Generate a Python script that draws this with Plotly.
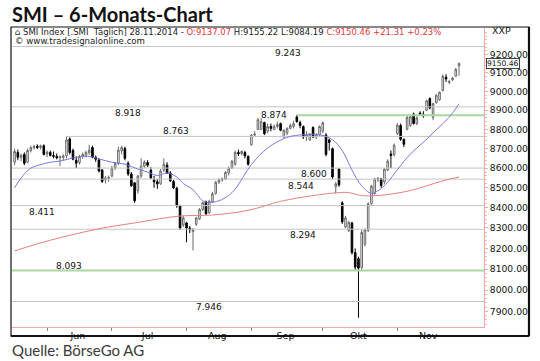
import math
import pandas as pd
import plotly.graph_objects as go

# ---------------- data ----------------
HOLIDAYS = ["2014-05-29", "2014-06-09", "2014-08-01"]
DATES = pd.bdate_range("2014-05-16", "2014-11-28", freq="C", holidays=HOLIDAYS)

OPEN = [8630, 8680, 8655, 8670, 8630, 8690, 8705, 8712, 8706, 8715,
        8672, 8680, 8665, 8660, 8652, 8655, 8662, 8750, 8690, 8640,
        8628, 8660, 8666, 8678, 8705, 8655, 8642, 8590, 8540, 8548,
        8560, 8600, 8625, 8688, 8700, 8625, 8570, 8525, 8485, 8560,
        8610, 8628, 8590, 8540, 8530, 8520, 8590, 8615, 8575, 8532,
        8498, 8410, 8315, 8325, 8300, 8282, 8318, 8345, 8392, 8430,
        8375, 8430, 8472, 8528, 8540, 8545, 8575, 8600, 8620, 8680,
        8674, 8680, 8660, 8720, 8770, 8800, 8800, 8835, 8790, 8815,
        8800, 8815, 8830, 8760, 8780, 8805, 8815, 8865, 8835, 8815,
        8765, 8745, 8810, 8760, 8770, 8790, 8770, 8745, 8700, 8505,
        8595, 8425, 8305, 8287, 8325, 8180, 8150, 8108, 8220, 8287,
        8422, 8472, 8540, 8545, 8530, 8590, 8672, 8668, 8778, 8820,
        8748, 8800, 8820, 8880, 8830, 8885, 8878, 8900, 8962, 8862,
        8940, 8955, 9005, 9076, 9048, 9062, 9082, 9137.07]
HIGH = [8700, 8695, 8675, 8680, 8700, 8715, 8720, 8722, 8720, 8722,
        8690, 8690, 8685, 8675, 8665, 8670, 8763, 8758, 8700, 8660,
        8668, 8680, 8690, 8720, 8715, 8665, 8650, 8595, 8560, 8562,
        8612, 8632, 8710, 8715, 8710, 8635, 8580, 8530, 8565, 8650,
        8640, 8640, 8605, 8560, 8545, 8595, 8650, 8630, 8585, 8540,
        8505, 8415, 8360, 8330, 8310, 8300, 8355, 8398, 8430, 8436,
        8440, 8480, 8535, 8548, 8552, 8585, 8608, 8642, 8690, 8695,
        8690, 8688, 8665, 8775, 8790, 8860, 8860, 8840, 8830, 8830,
        8825, 8840, 8835, 8800, 8810, 8830, 8845, 8874, 8845, 8820,
        8790, 8780, 8815, 8780, 8820, 8840, 8780, 8752, 8705, 8530,
        8600, 8432, 8360, 8335, 8330, 8200, 8160, 8290, 8298, 8428,
        8515, 8550, 8555, 8550, 8600, 8645, 8690, 8726, 8832, 8830,
        8752, 8870, 8872, 8888, 8868, 8895, 8895, 8956, 8968, 8940,
        8985, 9000, 9090, 9092, 9062, 9078, 9125, 9155.22]
LOW = [8615, 8640, 8635, 8615, 8625, 8680, 8695, 8698, 8696, 8665,
       8655, 8660, 8650, 8645, 8610, 8640, 8650, 8670, 8640, 8600,
       8618, 8648, 8655, 8668, 8650, 8632, 8578, 8525, 8522, 8530,
       8552, 8590, 8615, 8670, 8640, 8560, 8505, 8425, 8470, 8550,
       8600, 8605, 8545, 8500, 8495, 8515, 8580, 8570, 8530, 8495,
       8400, 8290, 8305, 8230, 8275, 8190, 8310, 8340, 8385, 8365,
       8370, 8425, 8465, 8520, 8530, 8540, 8562, 8595, 8612, 8662,
       8665, 8650, 8612, 8715, 8760, 8795, 8795, 8770, 8780, 8790,
       8795, 8805, 8790, 8755, 8770, 8800, 8805, 8835, 8805, 8750,
       8740, 8740, 8755, 8750, 8765, 8780, 8660, 8690, 8545, 8470,
       8505, 8320, 8298, 8280, 8170, 8095, 7870, 8095, 8210, 8280,
       8415, 8465, 8530, 8500, 8520, 8585, 8600, 8660, 8770, 8740,
       8708, 8795, 8812, 8825, 8822, 8875, 8860, 8895, 8905, 8848,
       8935, 8950, 9000, 9050, 9038, 9055, 9078, 9084.19]
CLOSE = [8685, 8655, 8665, 8625, 8690, 8705, 8710, 8706, 8714, 8670,
         8682, 8665, 8660, 8652, 8658, 8662, 8745, 8680, 8645, 8625,
         8660, 8670, 8680, 8692, 8655, 8645, 8585, 8532, 8550, 8552,
         8600, 8625, 8692, 8705, 8650, 8570, 8510, 8435, 8560, 8610,
         8630, 8615, 8550, 8530, 8520, 8585, 8620, 8575, 8535, 8500,
         8410, 8300, 8350, 8300, 8292, 8292, 8349, 8392, 8426, 8370,
         8432, 8470, 8528, 8540, 8545, 8578, 8600, 8635, 8680, 8674,
         8686, 8662, 8620, 8770, 8775, 8850, 8840, 8778, 8815, 8805,
         8815, 8825, 8795, 8795, 8805, 8820, 8830, 8840, 8820, 8760,
         8770, 8775, 8760, 8770, 8815, 8835, 8670, 8732, 8555, 8520,
         8515, 8330, 8350, 8328, 8180, 8110, 8105, 8278, 8290, 8420,
         8508, 8545, 8546, 8512, 8595, 8636, 8664, 8718, 8822, 8748,
         8722, 8862, 8866, 8830, 8860, 8880, 8872, 8950, 8912, 8935,
         8980, 8995, 9082, 9066, 9052, 9072, 9119, 9150.46]

# moving averages (day index, value)
MA20_IDX = [0, 2, 5, 9, 11, 14, 19, 23, 26, 30, 34, 38, 41, 44, 47, 50, 52, 55, 58, 60,
            63, 66, 68, 73, 78, 84, 89, 94, 98, 101, 104, 107, 110, 112, 115, 118, 122,
            126, 130, 134, 137]
MA20_VAL = [8500, 8550, 8600, 8622, 8630, 8636, 8655, 8660, 8647, 8630, 8620, 8595, 8580,
            8562, 8575, 8555, 8522, 8490, 8435, 8427, 8435, 8462, 8494, 8618, 8703, 8758,
            8772, 8772, 8746, 8690, 8590, 8510, 8472, 8485, 8528, 8592, 8672, 8732, 8798,
            8864, 8934]
MA200_IDX = [0, 11, 26, 37, 51, 61, 72, 82, 92, 100, 103, 107, 112, 117, 122, 127, 132, 137]
MA200_VAL = [8188, 8240, 8296, 8325, 8359, 8364, 8387, 8432, 8461, 8476, 8476, 8461, 8461,
             8471, 8486, 8510, 8535, 8555]

# support / resistance levels
LEVELS = [9243, 8918, 8874, 8763, 8600, 8544, 8411, 8294, 8093, 7946]
LEVEL_TEXT = ["9.243", "8.918", "8.874", "8.763", "8.600", "8.544", "8.411", "8.294", "8.093", "7.946"]
LEVEL_START = [None, None, 87, 16, None, None, None, None, None, None]
LEVEL_GREEN = [False, False, True, False, False, False, False, False, True, False]

MONTHS_DE = {6: "Jun", 7: "Jul", 8: "Aug", 9: "Sep", 10: "Okt", 11: "Nov"}
Y_TICKS = [7900, 8000, 8100, 8200, 8300, 8400, 8500, 8600, 8700, 8800, 8900, 9000, 9100, 9200]

# ---------------- layout constants ----------------
XRANGE = [-0.8, 144.7]
YRANGE = [math.log10(7826.8), math.log10(9344.7)]
# label placement (x in day index, vertical offset in px)
LABEL_X = [84.2, 35, 80, 49.6, 92.2, 88.2, 8.5, 88.8, 16.8, 59.8]
LABEL_DY = [-7, -6, 0, 5, -6, -7, -6, -6, 5, -5]

FONT = "DejaVu Sans, Verdana, sans-serif"
N = len(CLOSE)
idx = list(range(N))
months = [d.month for d in DATES]

month_start, month_mid, month_name = [], [], []
for m in MONTHS_DE:
    ii = [i for i in idx if months[i] == m]
    month_start.append(ii[0])
    month_mid.append(sum(ii) / len(ii))
    month_name.append(MONTHS_DE[m])

fig = go.Figure()

for lvl, start, green in zip(LEVELS, LEVEL_START, LEVEL_GREEN):
    x0 = XRANGE[0] if start is None else start
    fig.add_trace(go.Scatter(
        x=[x0, XRANGE[1]], y=[lvl, lvl], mode="lines",
        line=dict(color="#a9d7a0" if green else "#c4c4c4", width=2 if green else 1),
        hoverinfo="skip", showlegend=False))

fig.add_trace(go.Scatter(x=MA200_IDX, y=MA200_VAL, mode="lines",
                         line=dict(color="#e58080", width=1, shape="spline"),
                         hoverinfo="skip", showlegend=False))
fig.add_trace(go.Scatter(x=MA20_IDX, y=MA20_VAL, mode="lines",
                         line=dict(color="#7b78e0", width=1, shape="spline"),
                         hoverinfo="skip", showlegend=False))

fig.add_trace(go.Candlestick(
    x=idx, open=OPEN, high=HIGH, low=LOW, close=CLOSE,
    increasing=dict(line=dict(color="#6a6a6a", width=1), fillcolor="#ffffff"),
    decreasing=dict(line=dict(color="#000000", width=1), fillcolor="#000000"),
    whiskerwidth=0, showlegend=False, hoverinfo="skip"))

annotations = []
for lvl, txt, lx, dy in zip(LEVELS, LEVEL_TEXT, LABEL_X, LABEL_DY):
    annotations.append(dict(x=lx, y=math.log10(lvl), xref="x", yref="y", text=txt,
                            showarrow=False, yshift=dy, xanchor="center",
                            font=dict(family=FONT, size=9, color="#111")))

# header texts
red = "#e23a3a"
annotations.append(dict(
    x=0.002, y=0.987, xref="paper", yref="paper", xanchor="left", yanchor="middle",
    showarrow=False, font=dict(family=FONT, size=8.5, color="#222"),
    text=("\u2302 SMI Index [.SMI  T\u00e4glich] 28.11.2014 - "
          f"<span style='color:{red}'>O:{OPEN[-1]:.2f}</span> H:{HIGH[-1]:.2f} L:{LOW[-1]:.2f} "
          f"<span style='color:{red}'>C:{CLOSE[-1]:.2f} +21.31 +0.23%</span>")))
annotations.append(dict(
    x=0.002, y=0.957, xref="paper", yref="paper", xanchor="left", yanchor="middle",
    showarrow=False, font=dict(family=FONT, size=8.6, color="#222"),
    text="\u00a9 www.tradesignalonline.com"))
annotations.append(dict(
    x=1.012, y=0.99, xref="paper", yref="paper", xanchor="left", yanchor="middle",
    showarrow=False, font=dict(family=FONT, size=9.5, color="#222"), text="XXP"))
annotations.append(dict(
    x=1.004, y=math.log10(CLOSE[-1]), xref="paper", yref="y", xanchor="left",
    yanchor="middle", yshift=-0.5, showarrow=False, bgcolor="#ffffff", bordercolor="#444",
    borderwidth=1, borderpad=0, font=dict(family=FONT, size=7.6, color="#111"),
    text=f"{CLOSE[-1]:.2f}"))
annotations.append(dict(
    x=-0.0045, y=1.047, xref="paper", yref="paper", xanchor="left", yanchor="middle",
    showarrow=False, font=dict(family="Lato, Open Sans, sans-serif", size=20, color="#111"),
    text="<b>SMI \u2013 6-Monats-Chart</b>"))
annotations.append(dict(
    x=-0.0045, y=-0.077, xref="paper", yref="paper", xanchor="left", yanchor="middle",
    showarrow=False, font=dict(family="Lato, Open Sans, sans-serif", size=15, color="#3a3a3a"),
    text="Quelle: B\u00f6rseGo AG"))

shapes = [
    dict(type="rect", xref="paper", yref="paper", x0=-0.0021, x1=1.0953, y0=-0.0301, y1=1.0033,
         line=dict(color="#111", width=1.2), layer="above"),
    dict(type="line", xref="paper", yref="paper", x0=1.0953, x1=1.0953, y0=-0.0301, y1=1.0033,
         line=dict(color="#111", width=2.2), layer="above"),
    dict(type="line", xref="paper", yref="paper", x0=-0.0021, x1=1.0953, y0=-0.0301, y1=-0.0301,
         line=dict(color="#111", width=2.2), layer="above"),
]

fig.update_layout(
    width=540, height=361,
    margin=dict(l=12, r=56, t=28, b=34),
    paper_bgcolor="#ffffff", plot_bgcolor="#ffffff",
    showlegend=False,
    annotations=annotations,
    shapes=shapes,
    xaxis=dict(range=XRANGE, rangeslider=dict(visible=False), showgrid=False, zeroline=False,
               tickmode="array", tickvals=month_mid, ticktext=month_name, ticks="",
               tickfont=dict(family=FONT, size=9.5, color="#111"),
               showline=True, linecolor="#f0a8a8", linewidth=1,
               minor=dict(tickmode="array", tickvals=month_start, ticks="outside",
                          ticklen=3, tickcolor="#888", tickwidth=1)),
    yaxis=dict(type="log", range=YRANGE, side="right", showgrid=False, zeroline=False,
               tickmode="array", tickvals=Y_TICKS, ticktext=[f"{v:.2f}" for v in Y_TICKS],
               ticks="outside", ticklen=3, tickcolor="#f0a8a8",
               tickfont=dict(family=FONT, size=9.2, color="#111"),
               showline=True, linecolor="#f0a8a8", linewidth=1,
               minor=dict(tickmode="array", tickvals=list(range(7840, 9340, 20)),
                          ticks="outside", ticklen=2, tickcolor="#f0b8b8")),
)

fig.write_html("out.html", config={"displayModeBar": False, "staticPlot": True},
               post_script="document.body.style.margin='0px';")
